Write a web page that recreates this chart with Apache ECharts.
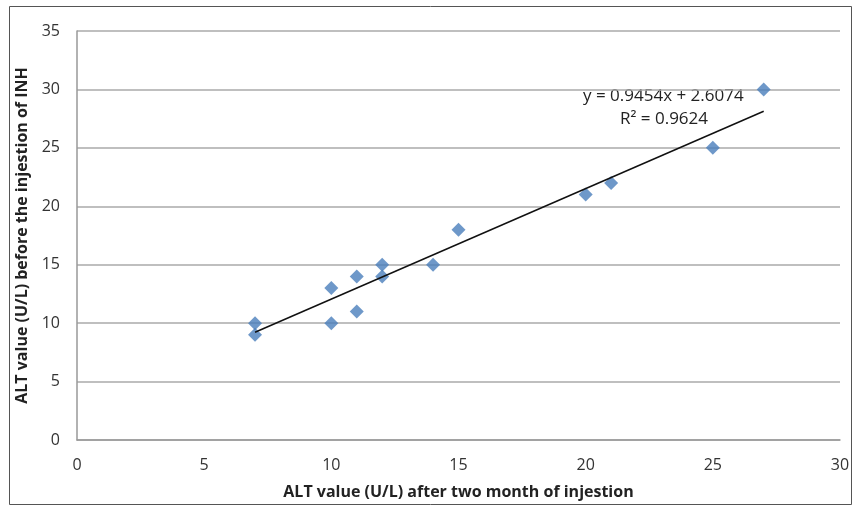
<!DOCTYPE html>
<html><head><meta charset="utf-8">
<script src="https://cdn.jsdelivr.net/npm/echarts@6/dist/echarts.min.js"></script>
<style>html,body{margin:0;padding:0;background:#fff}#c{width:854px;height:513px}</style>
</head><body><div id="c"></div>
<script>
const xValues = [7, 7, 10, 10, 11, 11, 12, 12, 14, 15, 20, 21, 25, 27];
const yValues = [10, 9, 13, 10, 14, 11, 15, 14, 15, 18, 21, 22, 25, 30];
const slope = 0.9454, intercept = 2.6074;
const trendX = [7, 27];
const xTicks = [0, 5, 10, 15, 20, 25, 30];
const yTicks = [0, 5, 10, 15, 20, 25, 30, 35];
const eqText = 'y = 0.9454x + 2.6074';
const r2Text = 'R² = 0.9624';
const xName = 'ALT value (U/L) after two month of injestion';
const yName = 'ALT value (U/L) before the injestion of INH';

const font = '"Open Sans", "Liberation Sans", sans-serif';
const chart = echarts.init(document.getElementById('c'));
chart.setOption({
  animation: false,
  backgroundColor: '#fff',
  grid: {left: 77, right: 14, top: 31, bottom: 73},
  xAxis: {
    type: 'value', min: 0, max: 30, interval: 5,
    name: xName, nameLocation: 'middle', nameGap: 44,
    nameTextStyle: {fontFamily: font, fontSize: 16, fontWeight: 'bold', color: '#222'},
    axisLine: {show: true, lineStyle: {color: '#999', width: 1.5}},
    axisTick: {show: false},
    splitLine: {show: false},
    axisLabel: {fontFamily: font, fontSize: 16, color: '#333', margin: 17}
  },
  yAxis: {
    type: 'value', min: 0, max: 35, interval: 5,
    name: yName, nameLocation: 'middle', nameGap: 46,
    nameTextStyle: {fontFamily: font, fontSize: 16, fontWeight: 'bold', color: '#222'},
    axisLine: {show: true, lineStyle: {color: '#999', width: 1.5}},
    axisTick: {show: false},
    splitLine: {show: true, lineStyle: {color: '#aaa', width: 1.5}},
    axisLabel: {fontFamily: font, fontSize: 16, color: '#333', margin: 17}
  },
  graphic: [
    {type: 'rect', shape: {x: 9.5, y: 6.5, width: 842, height: 498}, style: {fill: 'none', stroke: '#555', lineWidth: 1}, z: -1},
    {type: 'text', left: 583, top: 88, style: {text: eqText, fontFamily: font, fontSize: 17, fill: '#222'}},
    {type: 'text', left: 620, top: 111, style: {text: r2Text, fontFamily: font, fontSize: 17, fill: '#222'}}
  ],
  series: [
    {
      type: 'line', data: trendX.map(x => [x, slope * x + intercept]),
      showSymbol: false, lineStyle: {color: '#111', width: 1.5}, z: 3
    },
    {
      type: 'scatter', symbol: 'diamond', symbolSize: 14,
      data: xValues.map((x, i) => [x, yValues[i]]),
      itemStyle: {color: '#4a7ebb'}, z: 2
    }
  ]
});
</script></body></html>
